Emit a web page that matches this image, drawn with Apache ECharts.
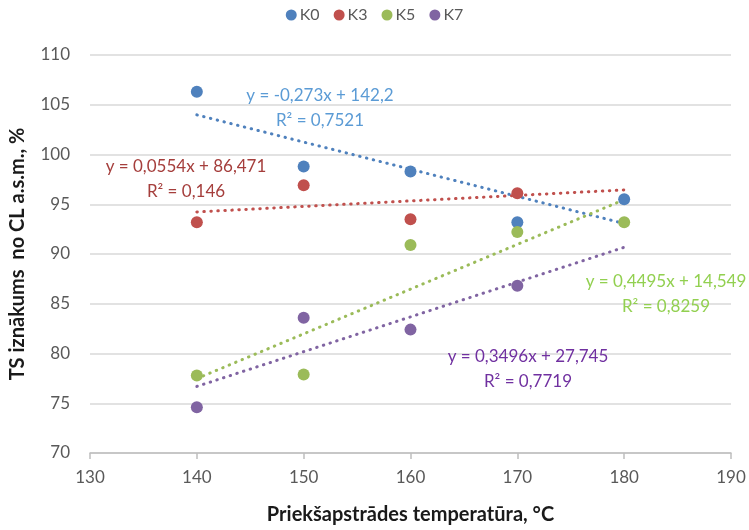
<!DOCTYPE html>
<html>
<head>
<meta charset="utf-8">
<script src="https://cdn.jsdelivr.net/npm/echarts@6/dist/echarts.min.js"></script>
<style>
  html, body { margin: 0; padding: 0; background: #fff; }
  #chart { width: 749px; height: 530px; }
</style>
</head>
<body>
<div id="chart"></div>
<script>
// Pretreatment temperatures and TS yield per sample group
const temperatures = [140, 150, 160, 170, 180];
const seriesNames = ['K0', 'K3', 'K5', 'K7'];
const valuesK0 = [106.3, 98.8, 98.3, 93.2, 95.5];
const valuesK3 = [93.2, 96.9, 93.5, 96.1, null];
const valuesK5 = [77.8, 77.9, 90.9, 92.2, 93.2];
const valuesK7 = [74.6, 83.6, 82.4, 86.8, null];

// Linear trendlines (slope, intercept) and their R² values
const trendSlopes = [-0.273, 0.0554, 0.4495, 0.3496];
const trendIntercepts = [142.2, 86.471, 14.549, 27.745];
const trendR2 = ['0,7521', '0,146', '0,8259', '0,7719'];
const trendRange = [140, 180];

const xTicks = { min: 130, max: 190, interval: 10 };
const yTicks = { min: 70, max: 110, interval: 5 };

const markerColors = ['#4F81BD', '#C0504D', '#9BBB59', '#8064A2'];
const labelColors = ['#5B9BD5', '#A53E3C', '#92D050', '#7030A0'];
const FONT = 'Lato, "Open Sans", sans-serif';

const allValues = [valuesK0, valuesK3, valuesK5, valuesK7];

function fmt(num, decimals) {
  return num.toFixed(decimals).replace('.', ',');
}
const slopeDec = [3, 4, 4, 4];
const interDec = [1, 3, 3, 3];
function equationText(i) {
  const s = trendSlopes[i];
  return 'y = ' + (s < 0 ? '-' : '') + fmt(Math.abs(s), slopeDec[i]) + 'x + ' + fmt(trendIntercepts[i], interDec[i]);
}

const scatterSeries = seriesNames.map((name, i) => ({
  name: name,
  type: 'scatter',
  symbol: 'circle',
  symbolSize: 12,
  itemStyle: { color: markerColors[i], opacity: 1 },
  z: 5 + i,
  data: temperatures
    .map((t, k) => [t, allValues[i][k]])
    .filter(p => p[1] !== null)
}));

const trendSeries = seriesNames.map((name, i) => ({
  name: name + ' trend',
  type: 'line',
  showSymbol: false,
  symbol: 'none',
  silent: true,
  z: 3,
  lineStyle: { color: markerColors[i], width: 3, type: [0.5, 6.5], cap: 'round' },
  data: trendRange.map(x => [x, trendSlopes[i] * x + trendIntercepts[i]])
}));

// Equation label blocks (centre of the two-line block)
const labelPos = [
  { x: 320, y: 108 },
  { x: 186, y: 179 },
  { x: 666, y: 294 },
  { x: 528, y: 369 }
];

const graphics = labelPos.map((p, i) => ({
  type: 'text',
  x: p.x, y: p.y,
  z: 20,
  style: {
    text: equationText(i) + '\nR² = ' + trendR2[i],
    fill: labelColors[i],
    font: '17px ' + FONT,
    align: 'center',
    verticalAlign: 'middle',
    lineHeight: 25
  }
}));

const chart = echarts.init(document.getElementById('chart'), null, { renderer: 'canvas' });
chart.setOption({
  animation: false,
  backgroundColor: '#fff',
  textStyle: { fontFamily: FONT },
  legend: {
    data: seriesNames,
    top: 2,
    left: 'center',
    icon: 'circle',
    itemWidth: 11,
    itemHeight: 11,
    itemGap: 14,
    textStyle: { fontSize: 16, color: '#595959', fontFamily: FONT, padding: [0, 0, 0, -2] }
  },
  grid: { left: 89, right: 18, top: 55, bottom: 73, containLabel: false },
  xAxis: {
    type: 'value',
    min: xTicks.min, max: xTicks.max, interval: xTicks.interval,
    name: 'Priekšapstrādes temperatūra, °C',
    nameLocation: 'middle',
    nameGap: 52,
    nameTextStyle: { fontSize: 20, fontWeight: 'bold', color: '#1a1a1a', fontFamily: FONT },
    axisLine: { show: true, lineStyle: { color: '#BFBFBF', width: 1.5 } },
    axisTick: { show: true, length: 6, lineStyle: { color: '#BFBFBF', width: 1.5 } },
    axisLabel: { fontSize: 17, color: '#595959', margin: 16 },
    splitLine: { show: false }
  },
  yAxis: {
    type: 'value',
    min: yTicks.min, max: yTicks.max, interval: yTicks.interval,
    name: 'TS iznākums  no CL a.s.m., %',
    nameLocation: 'middle',
    nameRotate: 90,
    nameGap: 62,
    nameTextStyle: { fontSize: 20, fontWeight: 'bold', color: '#1a1a1a', fontFamily: FONT },
    axisLine: { show: false },
    axisTick: { show: false },
    axisLabel: { fontSize: 17, color: '#595959', margin: 20 },
    splitLine: { show: true, lineStyle: { color: '#D9D9D9', width: 1.5 } }
  },
  series: trendSeries.concat(scatterSeries),
  graphic: graphics
});
</script>
</body>
</html>
